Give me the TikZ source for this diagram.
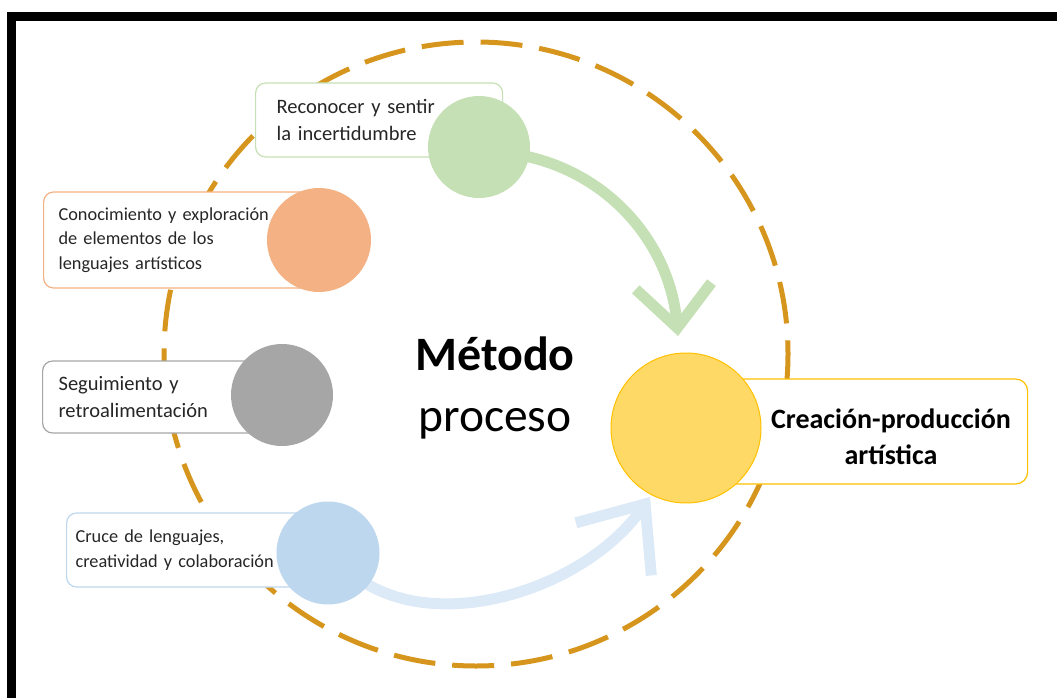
\documentclass[tikz,border=0pt]{standalone}
\usepackage{fontspec}
\setmainfont{Carlito}
\usetikzlibrary{arrows.meta}
\definecolor{dashc}{RGB}{214,150,30}
\definecolor{gfill}{RGB}{197,224,180}
\definecolor{ofill}{RGB}{244,177,131}
\definecolor{grfill}{RGB}{166,166,166}
\definecolor{bfill}{RGB}{189,215,238}
\definecolor{yfill}{RGB}{255,217,102}
\definecolor{yline}{RGB}{255,192,0}
\definecolor{barrow}{RGB}{220,233,246}
\definecolor{txt}{RGB}{38,38,38}
\tikzset{
  dot/.style={circle, fill=#1, draw=none, inner sep=0pt, minimum size=102pt},
  lbox/.style={draw=#1, fill=white, rounded corners=10pt, line width=1.2pt,
    anchor=west, align=left, inner ysep=0pt, text=txt},
  smalltext/.style={font=\fontsize{18.3}{24.5}\selectfont},
  largetext/.style={font=\fontsize{20.5}{27}\selectfont},
  flow/.style={line width=11pt, draw=#1},
  ytxt/.style={anchor=base, font=\fontsize{28}{36}\selectfont\bfseries},
}
\begin{document}
\begin{tikzpicture}[x=1pt,y=-1pt]
\path[use as bounding box] (0,0) rectangle (1057,698);
\fill[black] (7,12) rectangle (1057,21);
\fill[black] (7,12) rectangle (16,698);
\draw[dashc, line width=5pt, dash pattern=on 42pt off 17pt] (476,354) circle[radius=312];

% coordinates for arrow tips
\coordinate (gtip) at (678,336);
\coordinate (btip) at (650,497);
\coordinate (bstart) at (350,572);
\coordinate (gstart) at (520,155);

\draw[flow=gfill, -{Straight Barb[length=42pt,width=76pt]}]
  (gstart) .. controls (610,172) and (670,245) .. (gtip);
\draw[flow=barrow, -{Straight Barb[length=55pt,width=92pt]}]
  (bstart) .. controls (430,640) and (585,590) .. (btip);

% boxes
\node[lbox=gfill, largetext, inner xsep=21pt, text width=205pt, minimum height=74pt] (tg) at (255,120)
  {Reconocer y sentir\\la incertidumbre};
\node[lbox=ofill, smalltext, inner xsep=15pt, text width=245pt, minimum height=96pt] (to) at (43,240)
  {Conocimiento y exploración\\de elementos de los\\lenguajes artísticos};
\node[lbox=grfill, largetext, inner xsep=16pt, text width=210pt, minimum height=72pt] (tgr) at (42,397)
  {Seguimiento y\\retroalimentación};
\node[lbox=bfill, smalltext, inner xsep=9pt, text width=240pt, minimum height=74pt] (tb) at (66,550)
  {Cruce de lenguajes,\\creatividad y colaboración};
\node[draw=yline, fill=white, rounded corners=12pt, line width=1.2pt, minimum width=330pt,
  minimum height=105pt, anchor=west] (ty) at (697,431.5) {};

% circles
\node[dot=gfill] (gc) at (479,147) {};
\node[dot=ofill, minimum size=104pt] (oc) at (319,240) {};
\node[dot=grfill] (grc) at (282,395) {};
\node[dot=bfill, minimum size=103pt] (bc) at (328,553) {};
\node[circle, fill=yfill, draw=yline, line width=1pt, minimum size=150pt, inner sep=0pt] (yc) at (686,428) {};

% texts
\node[ytxt] (ytext1) at (891,428) {Creación-producción};
\node[ytxt] (ytext2) at (891,464) {artística};
\node[anchor=base, font=\fontsize{48}{56}\selectfont\bfseries] (met) at (495,370) {Método};
\node[anchor=base, font=\fontsize{47.5}{56}\selectfont] (pro) at (495,431) {proceso};
\end{tikzpicture}
\end{document}
